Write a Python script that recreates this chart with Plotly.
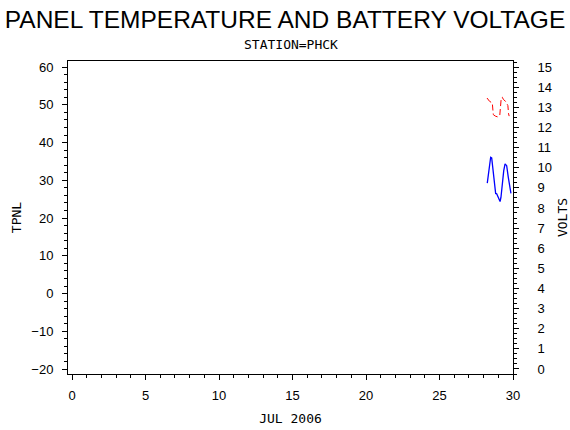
import plotly.graph_objects as go

# panel temperature (left axis)
tpnl_day = [28.23, 28.41, 28.59, 28.62, 28.66, 28.80, 28.95, 29.10, 29.14, 29.20,
            29.27, 29.35, 29.50, 29.60, 29.65, 29.70, 29.74]
tpnl_val = [51.8, 50.9, 50.5, 49.1, 47.4, 47.0, 46.8, 47.2, 49.4, 51.8,
            52.0, 51.4, 50.9, 50.2, 49.8, 47.6, 47.0]

# battery voltage (right axis)
volt_day = [28.25, 28.48, 28.55, 28.66, 28.73, 28.82, 28.89, 29.00, 29.12, 29.18,
            29.27, 29.37, 29.46, 29.57, 29.68, 29.78, 29.86]
volt_val = [9.23, 10.52, 10.49, 9.77, 9.02, 8.72, 8.70, 8.52, 8.32, 8.52,
            9.27, 9.85, 10.19, 10.10, 9.52, 8.94, 8.72]

x_ticks = [0, 5, 10, 15, 20, 25, 30]
left_ticks = [-20, -10, 0, 10, 20, 30, 40, 50, 60]
right_ticks = list(range(0, 16))

FONT = "Liberation Sans, Arial, sans-serif"
MONO = "DejaVu Sans Mono, monospace"

fig = go.Figure()
fig.add_trace(go.Scatter(x=tpnl_day, y=tpnl_val, mode="lines",
                         line=dict(color="red", width=1, dash="6px,3px"),
                         yaxis="y", showlegend=False))
fig.add_trace(go.Scatter(x=volt_day, y=volt_val, mode="lines",
                         line=dict(color="blue", width=1.3),
                         yaxis="y2", showlegend=False))

axis_common = dict(showline=True, linecolor="black", linewidth=1, showgrid=False,
                   zeroline=False, ticks="outside", ticklen=5, tickcolor="black",
                   automargin=False,
                   tickfont=dict(family=FONT, size=13, color="black"))

fig.update_layout(
    width=570, height=430,
    margin=dict(l=68, r=57, t=61, b=56),
    paper_bgcolor="white", plot_bgcolor="white",
    title=dict(text="PANEL TEMPERATURE AND BATTERY VOLTAGE", x=0.5, xref="container",
               y=1 - 19 / 430, yref="container", xanchor="center", yanchor="middle",
               font=dict(family=FONT, size=24.5, color="black")),
    xaxis=dict(axis_common, range=[-0.28, 30], tickvals=x_ticks, mirror=True,
               ticklabelstandoff=4,
               minor=dict(dtick=1, ticklen=3, ticks="outside", tickcolor="black"),
               title=dict(text="JUL 2006", standoff=12,
                          font=dict(family=MONO, size=13, color="black"))),
    yaxis=dict(axis_common, range=[-21.3, 61.6], tickvals=left_ticks,
               ticklabelstandoff=6,
               minor=dict(dtick=2, ticklen=3, ticks="outside", tickcolor="black"),
               title=dict(text="TPNL", standoff=6,
                          font=dict(family=MONO, size=13, color="black"))),
    yaxis2=dict(axis_common, range=[-0.25, 15.3], tickvals=right_ticks,
                overlaying="y", side="right", ticklabelstandoff=16,
                minor=dict(dtick=0.25, ticklen=3, ticks="outside", tickcolor="black"),
                title=dict(text="VOLTS", standoff=16,
                           font=dict(family=MONO, size=13, color="black"))),
    annotations=[dict(text="STATION=PHCK", x=0.5, xref="paper",
                      y=1 + (61 - 44) / (430 - 61 - 56), yref="paper", yanchor="middle",
                      showarrow=False, font=dict(family=MONO, size=13, color="black"))],
)

# drop the browser's default page margin so the 570x430 figure fits the window
fig.write_html("out.html", config={"displayModeBar": False},
               post_script="document.body.style.margin='0';")
